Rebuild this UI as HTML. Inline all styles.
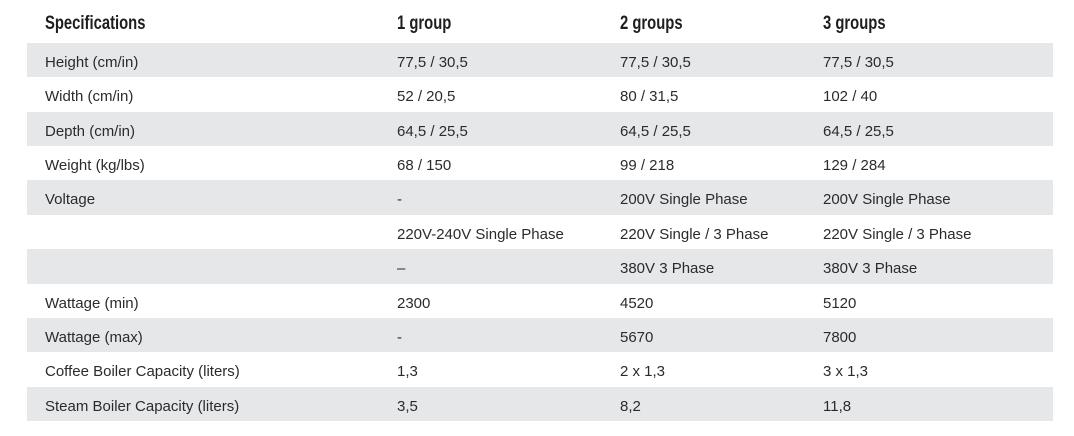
<!DOCTYPE html>
<html><head><meta charset="utf-8"><style>
body{margin:0;width:1074px;height:436px;background:#fff;position:relative;overflow:hidden;font-family:"Liberation Sans",sans-serif;color:#2b2b2b}
.r{position:absolute;left:27px;width:1026px;height:34.36px}
.g{background:#e6e7e8}
.c{position:absolute;top:3px;line-height:34.36px;font-size:15px;white-space:nowrap}
.h{position:absolute;top:13px;font-family:"Liberation Sans",sans-serif;font-weight:bold;font-size:19px;color:#1e1e1e;transform:scaleX(0.78);transform-origin:left}
</style></head><body>
<div class="h" style="left:45px">Specifications</div>
<div class="h" style="left:397px">1 group</div>
<div class="h" style="left:620px">2 groups</div>
<div class="h" style="left:823px">3 groups</div>
<div class="r g" style="top:43px"><span class="c" style="left:18px">Height (cm/in)</span><span class="c" style="left:370px">77,5 / 30,5</span><span class="c" style="left:593px">77,5 / 30,5</span><span class="c" style="left:796px">77,5 / 30,5</span></div>
<div class="r" style="top:77.36px"><span class="c" style="left:18px">Width (cm/in)</span><span class="c" style="left:370px">52 / 20,5</span><span class="c" style="left:593px">80 / 31,5</span><span class="c" style="left:796px">102 / 40</span></div>
<div class="r g" style="top:111.72px"><span class="c" style="left:18px">Depth (cm/in)</span><span class="c" style="left:370px">64,5 / 25,5</span><span class="c" style="left:593px">64,5 / 25,5</span><span class="c" style="left:796px">64,5 / 25,5</span></div>
<div class="r" style="top:146.08px"><span class="c" style="left:18px">Weight (kg/lbs)</span><span class="c" style="left:370px">68 / 150</span><span class="c" style="left:593px">99 / 218</span><span class="c" style="left:796px">129 / 284</span></div>
<div class="r g" style="top:180.44px"><span class="c" style="left:18px">Voltage</span><span class="c" style="left:370px">-</span><span class="c" style="left:593px">200V Single Phase</span><span class="c" style="left:796px">200V Single Phase</span></div>
<div class="r" style="top:214.8px"><span class="c" style="left:370px">220V-240V Single Phase</span><span class="c" style="left:593px">220V Single / 3 Phase</span><span class="c" style="left:796px">220V Single / 3 Phase</span></div>
<div class="r g" style="top:249.16px"><span class="c" style="left:370px">–</span><span class="c" style="left:593px">380V 3 Phase</span><span class="c" style="left:796px">380V 3 Phase</span></div>
<div class="r" style="top:283.52px"><span class="c" style="left:18px">Wattage (min)</span><span class="c" style="left:370px">2300</span><span class="c" style="left:593px">4520</span><span class="c" style="left:796px">5120</span></div>
<div class="r g" style="top:317.88px"><span class="c" style="left:18px">Wattage (max)</span><span class="c" style="left:370px">-</span><span class="c" style="left:593px">5670</span><span class="c" style="left:796px">7800</span></div>
<div class="r" style="top:352.24px"><span class="c" style="left:18px">Coffee Boiler Capacity (liters)</span><span class="c" style="left:370px">1,3</span><span class="c" style="left:593px">2 x 1,3</span><span class="c" style="left:796px">3 x 1,3</span></div>
<div class="r g" style="top:386.6px"><span class="c" style="left:18px">Steam Boiler Capacity (liters)</span><span class="c" style="left:370px">3,5</span><span class="c" style="left:593px">8,2</span><span class="c" style="left:796px">11,8</span></div>
</body></html>
